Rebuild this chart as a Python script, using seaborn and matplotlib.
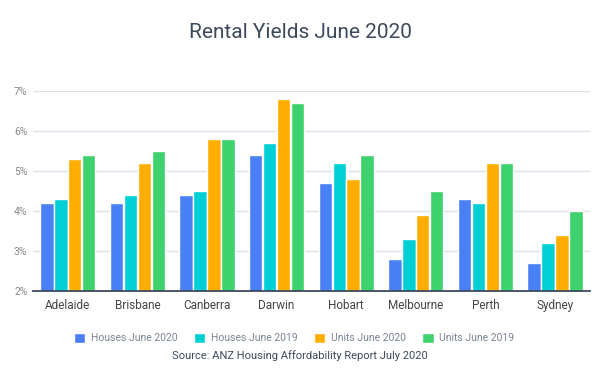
import matplotlib
matplotlib.use("Agg")
import matplotlib.pyplot as plt
import seaborn as sns
import pandas as pd

cities = ["Adelaide", "Brisbane", "Canberra", "Darwin", "Hobart", "Melbourne", "Perth", "Sydney"]
houses_2020 = [4.2, 4.2, 4.4, 5.4, 4.7, 2.8, 4.3, 2.7]
houses_2019 = [4.3, 4.4, 4.5, 5.7, 5.2, 3.3, 4.2, 3.2]
units_2020 = [5.3, 5.2, 5.8, 6.8, 4.8, 3.9, 5.2, 3.4]
units_2019 = [5.4, 5.5, 5.8, 6.7, 5.4, 4.5, 5.2, 4.0]
series_names = ["Houses June 2020", "Houses June 2019", "Units June 2020", "Units June 2019"]
yticks = [2, 3, 4, 5, 6, 7]

rows = []
for name, vals in zip(series_names, [houses_2020, houses_2019, units_2020, units_2019]):
    for c, v in zip(cities, vals):
        rows.append({"city": c, "series": name, "value": v})
df = pd.DataFrame(rows)

sns.set_theme(style="white")
plt.rcParams["font.family"] = ["Roboto", "DejaVu Sans"]

colors = ["#4a80f5", "#00cfd6", "#ffad00", "#3dd26d"]

fig = plt.figure(figsize=(6, 3.8), dpi=100)
ax = fig.add_axes([0.055, 0.234, 0.928, 0.5265])
sns.barplot(data=df, x="city", y="value", hue="series", palette=colors,
            hue_order=series_names, order=cities, width=0.8, saturation=1,
            ax=ax, legend=False, gap=0.04)
ax.set_ylim(2, 7)
ax.set_yticks(yticks)
ax.set_yticklabels([f"{t}%" for t in yticks], color="#8a8a8a", fontsize=7.5)
ax.set_xlim(-0.5, 7.5)
ax.tick_params(axis="x", colors="#444444", labelsize=8.5, length=0, pad=6)
ax.tick_params(axis="y", length=0, pad=4)
ax.set_xlabel("")
ax.set_ylabel("")
ax.grid(axis="y", color="#d9e1ea", linewidth=1)
ax.set_axisbelow(True)
for s in ["top", "right", "left"]:
    ax.spines[s].set_visible(False)
ax.spines["bottom"].set_color("#3d4a5c")
ax.spines["bottom"].set_linewidth(1.3)

fig.text(0.5, 1 - 33 / 380, "Rental Yields June 2020", ha="center", va="center",
         fontsize=15, color="#3d4a5c")

from matplotlib.patches import Patch
handles = [Patch(facecolor=c, label=n) for c, n in zip(colors, series_names)]
leg = fig.legend(handles=handles, loc="center", bbox_to_anchor=(0.49, 1 - 338 / 380),
                 ncol=4, frameon=False, fontsize=7.5, handlelength=1.1, handleheight=1.1,
                 handletextpad=0.5, columnspacing=1.6)
for t in leg.get_texts():
    t.set_color("#7a8494")

fig.text(0.5, 1 - 356 / 380, "Source: ANZ Housing Affordability Report July 2020",
         ha="center", va="center", fontsize=8, color="#3d4a5c")

fig.savefig("out.png", dpi=100, facecolor="white")
